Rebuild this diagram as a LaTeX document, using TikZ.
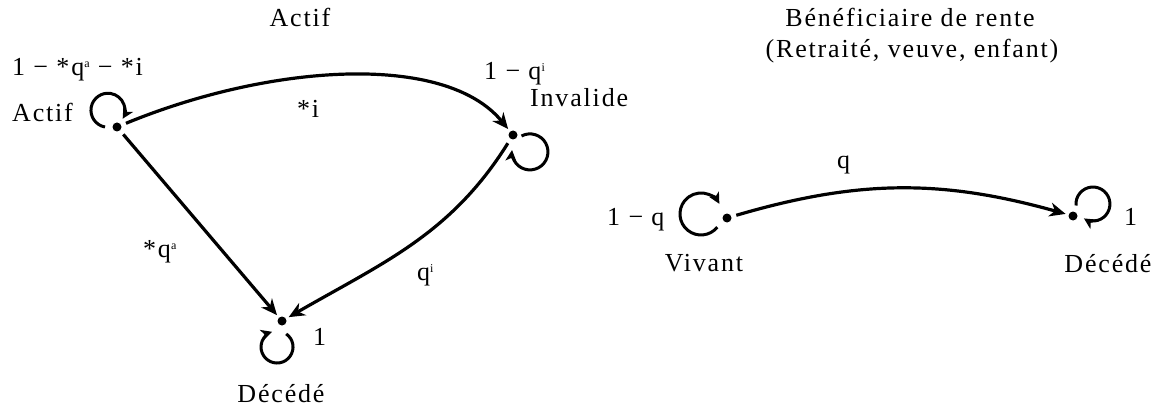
\documentclass[tikz,border=0pt]{standalone}
\usepackage{fontspec}
\setmainfont{Liberation Serif}[LetterSpace=7]
\usepackage{tikz}
\usetikzlibrary{arrows.meta}
\newcommand{\sx}[1]{\raisebox{8pt}{\fontsize{12}{12}\selectfont #1}}
\tikzset{
  etat/.style={circle,fill=black,inner sep=0pt,minimum size=9pt},
  txt/.style={font=\fontsize{26}{30}\selectfont,inner sep=0pt,anchor=base west},
  txtc/.style={txt,anchor=base},
  trans/.style={line width=3.2pt,-{Stealth[length=16pt,width=14pt,inset=5pt]},
                shorten <=5pt,shorten >=3pt},
  boucle/.style={line width=3pt,-{Stealth[length=11pt,width=11pt,inset=3pt]}},
}

\begin{document}
\begin{tikzpicture}[x=1pt,y=1pt]
  \useasboundingbox (0,0) rectangle (1166,-406);

  % --- titres -------------------------------------------------------------
  \node[txtc] (t1)  at (300,-27) {Actif};
  \node[txtc] (t2a) at (910,-27) {Bénéficiaire de rente};
  \node[txtc] (t2b) at (912,-58) {(Retraité, veuve, enfant)};

  % --- actif --------------------------------------------------------------
  \node[etat] (act) at (117,-127) {};
  \node[etat] (inv) at (513,-135) {};
  \node[etat] (dec) at (282,-321) {};

  \node[txt]  (lact) at (12,-122)  {Actif};
  \node[txt]  (pact) at (12,-76)   {1 − *q\sx{a} − *i};
  \node[txt]  (linv) at (530,-107) {Invalide};
  \node[txt]  (pinv) at (484,-80)  {1 − q\sx{i}};
  \node[txtc] (ldec) at (281,-402) {Décédé};
  \node[txt]  (pdec) at (313,-345) {1};

  \draw[trans] (act) .. controls (270,-64) and (445,-52) .. (inv);
  \draw[trans] (act) -- (dec);
  \draw[trans] (inv) to[out=238,in=30] (dec);
  \node[txt] (ei)  at (297,-118) {*i};
  \node[txt] (eqa) at (143,-257) {*q\sx{a}};
  \node[txt] (eqi) at (417,-280) {q\sx{i}};

  % boucles
  \draw[boucle] ([shift={(-12,0)}]act.center) arc[start angle=-100,end angle=-390,radius=17];
  \draw[boucle] ([shift={(8.5,-1)}]inv.center) arc[start angle=118,end angle=-186,radius=18];
  \draw[boucle] ([shift={(4.2,-12.9)}]dec.center) arc[start angle=55,end angle=-252,radius=16];

  % --- beneficiaire -------------------------------------------------------
  \node[etat] (viv)  at (727,-218) {};
  \node[etat] (decb) at (1073,-216) {};

  \node[txtc] (lviv)  at (704,-271)  {Vivant};
  \node[txt]  (pviv)  at (607,-225)  {1 − q};
  \node[txtc] (ldecb) at (1108,-272) {Décédé};
  \node[txt]  (pdecb) at (1124,-225) {1};

  \draw[trans] (viv) to[bend left=16] (decb);
  \node[txt] (eq) at (837,-168) {q};

  \draw[boucle] ([shift={(-9.7,-9.2)}]viv.center) arc[start angle=-39,end angle=-331,radius=21];
  \draw[boucle] ([shift={(3,10.5)}]decb.center) arc[start angle=185,end angle=-122,radius=17];
\end{tikzpicture}
\end{document}
